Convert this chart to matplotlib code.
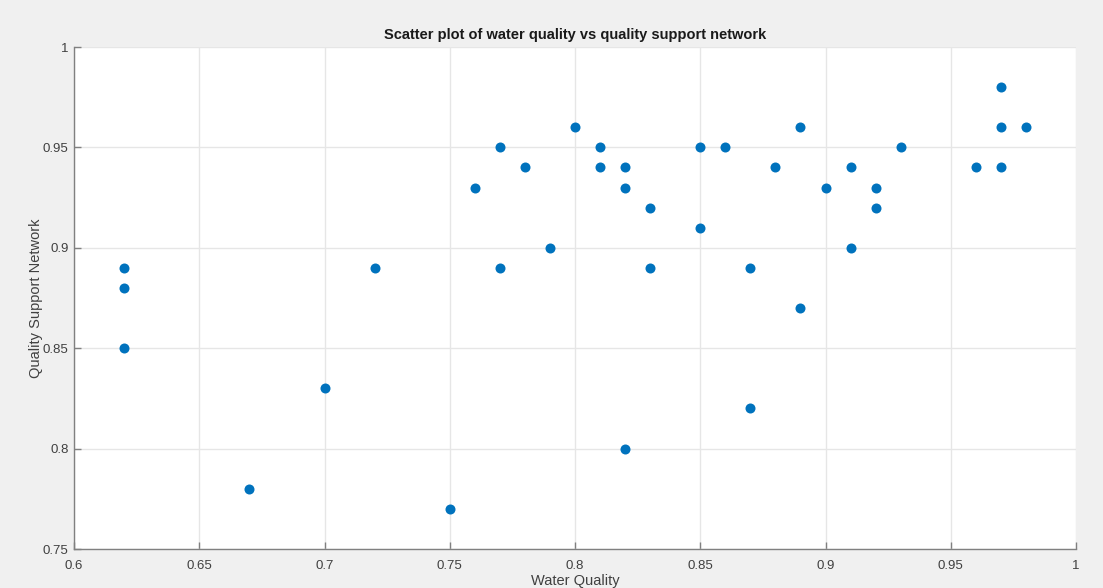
import matplotlib.pyplot as plt

plt.rcParams['font.family'] = ['Liberation Sans', 'DejaVu Sans']

# water quality vs quality support network scores
water_quality = [0.62, 0.62, 0.62, 0.67, 0.70, 0.72, 0.75, 0.76, 0.77, 0.77,
                 0.78, 0.79, 0.80, 0.81, 0.81, 0.82, 0.82, 0.82, 0.83, 0.83,
                 0.85, 0.85, 0.86, 0.87, 0.87, 0.88, 0.89, 0.89, 0.90, 0.91,
                 0.91, 0.92, 0.92, 0.93, 0.96, 0.97, 0.97, 0.97, 0.98]
support_network = [0.89, 0.88, 0.85, 0.78, 0.83, 0.89, 0.77, 0.93, 0.95, 0.89,
                   0.94, 0.90, 0.96, 0.95, 0.94, 0.94, 0.93, 0.80, 0.92, 0.89,
                   0.95, 0.91, 0.95, 0.89, 0.82, 0.94, 0.96, 0.87, 0.93, 0.94,
                   0.90, 0.93, 0.92, 0.95, 0.94, 0.98, 0.96, 0.94, 0.96]

x_ticks = [0.6, 0.65, 0.7, 0.75, 0.8, 0.85, 0.9, 0.95, 1]
y_ticks = [0.75, 0.8, 0.85, 0.9, 0.95, 1]

fig = plt.figure(figsize=(11.03, 5.88), dpi=100, facecolor='#f0f0f0')
ax = fig.add_axes([74 / 1103, 1 - 549 / 588, 1002 / 1103, 502 / 588])
ax.set_facecolor('white')

ax.scatter(water_quality, support_network, s=52, color='#0072BD', zorder=3,
           linewidths=0)

ax.set_xlim(0.6, 1)
ax.set_ylim(0.75, 1)
ax.set_xticks(x_ticks)
ax.set_yticks(y_ticks)
ax.set_xticklabels([f'{v:g}' for v in x_ticks])
ax.set_yticklabels([f'{v:g}' for v in y_ticks])

ax.grid(True, color='#e6e6e6', linewidth=1)
ax.set_axisbelow(True)
for side in ['top', 'right']:
    ax.spines[side].set_visible(False)
for side in ['left', 'bottom']:
    ax.spines[side].set_color('#808080')
    ax.spines[side].set_linewidth(1)
ax.tick_params(direction='in', length=5, width=1, color='#808080',
               labelcolor='#404040', labelsize=9.5)
ax.tick_params(axis='x', pad=8)
ax.tick_params(axis='y', pad=4)

ax.set_xlabel('Water Quality', fontsize=10.5, color='#404040', labelpad=1)
ax.set_ylabel('Quality Support Network', fontsize=10.5, color='#404040', labelpad=0)
ax.set_title('Scatter plot of water quality vs quality support network',
             fontsize=10.5, fontweight='bold', color='#1a1a1a', pad=6)

fig.savefig('out.png', dpi=100, facecolor=fig.get_facecolor())
